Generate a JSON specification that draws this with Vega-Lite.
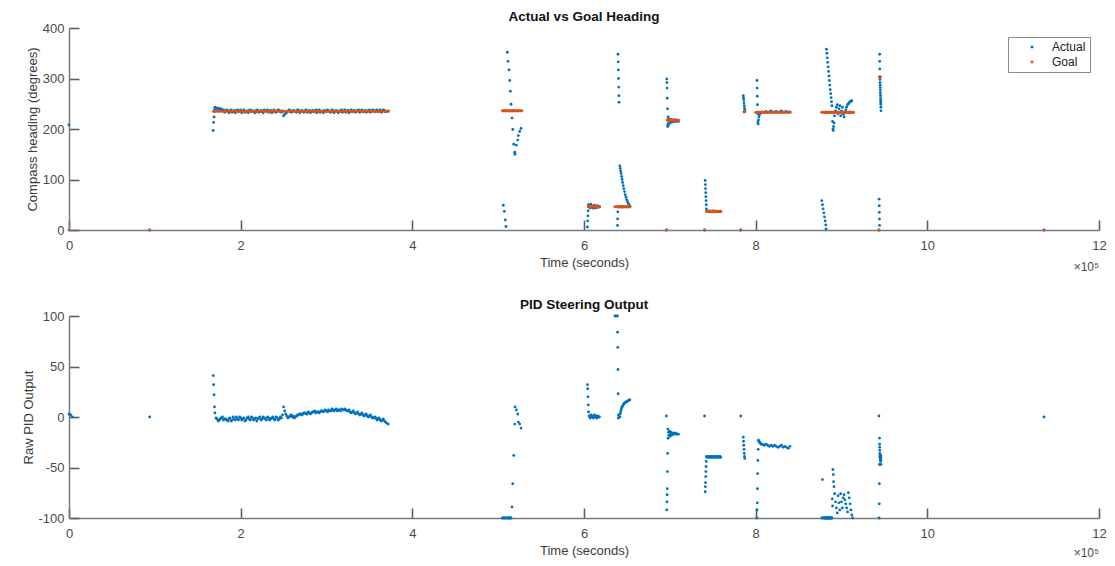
{
  "$schema": "https://vega.github.io/schema/vega-lite/v6.json",
  "background": "white",
  "padding": {"left": 22, "top": 9, "right": 10, "bottom": 5},
  "config": {
    "view": {"stroke": null},
    "font": "Liberation Sans",
    "axis": {"grid": false, "labelFlush": false, "domainColor": "#7a7a7a", "domainWidth": 1.5, "tickColor": "#5f5f5f", "tickWidth": 1.6, "tickSize": -10, "labelColor": "#4a4a4a", "labelFontSize": 13, "titleColor": "#3a3a3a", "titleFontSize": 13, "titleFontWeight": "normal"},
    "axisX": {"titlePadding": 4, "labelPadding": 19},
    "axisY": {"titlePadding": 3, "labelPadding": 15},
    "title": {"fontSize": 13.5, "fontWeight": "bold", "color": "#111111", "offset": -1}
  },
  "datasets": {
    "log": [
      {"t":0,"actual":208,"goal":0,"pid":3},
      {"t":2000,"pid":2},
      {"t":4000,"pid":0},
      {"t":94000,"actual":0,"goal":0,"pid":0},
      {"t":168000,"actual":197,"pid":41},
      {"t":168500,"actual":213,"goal":235,"pid":32},
      {"t":169000,"actual":224,"pid":22},
      {"t":169500,"actual":238,"goal":235,"pid":10},
      {"t":170000,"actual":243,"goal":235,"pid":4},
      {"t":172500,"actual":242,"goal":235,"pid":-2},
      {"t":175000,"actual":241,"goal":235,"pid":-3},
      {"t":177500,"actual":240,"goal":235,"pid":-1},
      {"t":180000,"actual":238,"goal":235,"pid":-3},
      {"t":182500,"actual":236,"goal":235,"pid":-2},
      {"t":185000,"actual":237,"goal":235,"pid":-4},
      {"t":187500,"actual":235,"goal":235,"pid":-1},
      {"t":190000,"actual":233,"goal":235,"pid":-3},
      {"t":192500,"actual":237,"goal":235,"pid":-2},
      {"t":195000,"actual":236,"goal":235,"pid":0},
      {"t":197500,"actual":234,"goal":235,"pid":-3},
      {"t":200000,"actual":238,"goal":235,"pid":-1},
      {"t":202500,"actual":235,"goal":235,"pid":-2},
      {"t":205000,"actual":233,"goal":235,"pid":-4},
      {"t":207500,"actual":236,"goal":235,"pid":-1},
      {"t":210000,"actual":237,"goal":235,"pid":-2},
      {"t":212500,"actual":234,"goal":235,"pid":0},
      {"t":215000,"actual":236,"goal":235,"pid":-3},
      {"t":217500,"actual":233,"goal":235,"pid":-1},
      {"t":220000,"actual":237,"goal":235,"pid":-2},
      {"t":222500,"actual":235,"goal":235,"pid":0},
      {"t":225000,"actual":234,"goal":235,"pid":-2},
      {"t":227500,"actual":238,"goal":235,"pid":-1},
      {"t":230000,"actual":236,"goal":235,"pid":-3},
      {"t":232500,"actual":233,"goal":235,"pid":-1},
      {"t":235000,"actual":237,"goal":235,"pid":-2},
      {"t":237500,"actual":235,"goal":235,"pid":0},
      {"t":240000,"actual":234,"goal":235,"pid":-3},
      {"t":242500,"actual":236,"goal":235,"pid":-1},
      {"t":245000,"actual":237,"goal":235,"pid":-2},
      {"t":247500,"actual":233,"goal":235,"pid":-1},
      {"t":250000,"actual":226,"goal":235,"pid":10},
      {"t":252500,"actual":231,"goal":235,"pid":3},
      {"t":255000,"actual":235,"goal":235,"pid":-1},
      {"t":257500,"actual":237,"goal":235,"pid":1},
      {"t":260000,"actual":234,"goal":235,"pid":0},
      {"t":262500,"actual":236,"goal":235,"pid":-1},
      {"t":265000,"actual":233,"goal":235,"pid":1},
      {"t":267500,"actual":237,"goal":235,"pid":2},
      {"t":270000,"actual":235,"goal":235,"pid":3},
      {"t":272500,"actual":234,"goal":235,"pid":3},
      {"t":275000,"actual":236,"goal":235,"pid":4},
      {"t":277500,"actual":233,"goal":235,"pid":3},
      {"t":280000,"actual":237,"goal":235,"pid":4},
      {"t":282500,"actual":235,"goal":235,"pid":4},
      {"t":285000,"actual":234,"goal":235,"pid":5},
      {"t":287500,"actual":238,"goal":235,"pid":4},
      {"t":290000,"actual":236,"goal":235,"pid":5},
      {"t":292500,"actual":233,"goal":235,"pid":5},
      {"t":295000,"actual":235,"goal":235,"pid":6},
      {"t":297500,"actual":237,"goal":235,"pid":6},
      {"t":300000,"actual":234,"goal":235,"pid":6},
      {"t":302500,"actual":236,"goal":235,"pid":7},
      {"t":305000,"actual":233,"goal":235,"pid":6},
      {"t":307500,"actual":237,"goal":235,"pid":7},
      {"t":310000,"actual":235,"goal":235,"pid":7},
      {"t":312500,"actual":234,"goal":235,"pid":6},
      {"t":315000,"actual":236,"goal":235,"pid":7},
      {"t":317500,"actual":238,"goal":235,"pid":8},
      {"t":320000,"actual":235,"goal":235,"pid":7},
      {"t":322500,"actual":233,"goal":235,"pid":7},
      {"t":325000,"actual":237,"goal":235,"pid":6},
      {"t":327500,"actual":236,"goal":235,"pid":5},
      {"t":330000,"actual":234,"goal":235,"pid":5},
      {"t":332500,"actual":237,"goal":235,"pid":4},
      {"t":335000,"actual":235,"goal":235,"pid":4},
      {"t":337500,"actual":238,"goal":235,"pid":3},
      {"t":340000,"actual":236,"goal":235,"pid":3},
      {"t":342500,"actual":234,"goal":235,"pid":2},
      {"t":345000,"actual":237,"goal":235,"pid":2},
      {"t":347500,"actual":236,"goal":235,"pid":1},
      {"t":350000,"actual":238,"goal":235,"pid":1},
      {"t":352500,"actual":235,"goal":235,"pid":0},
      {"t":355000,"actual":237,"goal":235,"pid":-1},
      {"t":357500,"actual":236,"goal":235,"pid":-1},
      {"t":360000,"actual":234,"goal":235,"pid":-2},
      {"t":362500,"actual":238,"goal":235,"pid":-3},
      {"t":365000,"actual":236,"goal":235,"pid":-3},
      {"t":367500,"actual":237,"goal":235,"pid":-4},
      {"t":370000,"actual":235,"goal":235,"pid":-6},
      {"t":372000,"actual":236,"goal":235,"pid":-7},
      {"t":171250,"actual":241,"pid":-1},
      {"t":173750,"actual":239,"pid":-4},
      {"t":176250,"actual":238,"pid":-2},
      {"t":178750,"actual":237,"pid":0},
      {"t":181250,"actual":233,"pid":-2},
      {"t":183750,"actual":238,"pid":-3},
      {"t":186250,"actual":232,"pid":-2},
      {"t":188750,"actual":238,"pid":-4},
      {"t":191250,"actual":234,"pid":0},
      {"t":193750,"actual":232,"pid":-3},
      {"t":196250,"actual":238,"pid":-2},
      {"t":198750,"actual":236,"pid":0},
      {"t":201250,"actual":232,"pid":-3},
      {"t":203750,"actual":238,"pid":-1},
      {"t":206250,"actual":235,"pid":-3},
      {"t":208750,"actual":232,"pid":0},
      {"t":211250,"actual":238,"pid":-3},
      {"t":213750,"actual":236,"pid":-1},
      {"t":216250,"actual":232,"pid":-2},
      {"t":218750,"actual":238,"pid":-4},
      {"t":221250,"actual":233,"pid":-1},
      {"t":223750,"actual":237,"pid":-3},
      {"t":226250,"actual":232,"pid":0},
      {"t":228750,"actual":235,"pid":-2},
      {"t":231250,"actual":238,"pid":0},
      {"t":233750,"actual":234,"pid":-3},
      {"t":236250,"actual":232,"pid":-1},
      {"t":238750,"actual":238,"pid":-2},
      {"t":241250,"actual":233,"pid":0},
      {"t":243750,"actual":238,"pid":-3},
      {"t":246250,"actual":234,"pid":0},
      {"t":248750,"actual":236,"pid":2},
      {"t":251250,"actual":229,"pid":6},
      {"t":253750,"actual":233,"pid":1},
      {"t":256250,"actual":238,"pid":0},
      {"t":258750,"actual":233,"pid":2},
      {"t":261250,"actual":237,"pid":1},
      {"t":263750,"actual":235,"pid":0},
      {"t":266250,"actual":238,"pid":2},
      {"t":268750,"actual":232,"pid":3},
      {"t":271250,"actual":237,"pid":2},
      {"t":273750,"actual":233,"pid":4},
      {"t":276250,"actual":238,"pid":3},
      {"t":278750,"actual":235,"pid":5},
      {"t":281250,"actual":232,"pid":3},
      {"t":283750,"actual":237,"pid":5},
      {"t":286250,"actual":235,"pid":6},
      {"t":288750,"actual":232,"pid":5},
      {"t":291250,"actual":238,"pid":4},
      {"t":293750,"actual":236,"pid":6},
      {"t":296250,"actual":232,"pid":5},
      {"t":298750,"actual":236,"pid":7},
      {"t":301250,"actual":238,"pid":5},
      {"t":303750,"actual":234,"pid":6},
      {"t":306250,"actual":238,"pid":8},
      {"t":308750,"actual":232,"pid":6},
      {"t":311250,"actual":237,"pid":8},
      {"t":313750,"actual":232,"pid":7},
      {"t":316250,"actual":235,"pid":6},
      {"t":318750,"actual":233,"pid":7},
      {"t":321250,"actual":238,"pid":8},
      {"t":323750,"actual":235,"pid":6},
      {"t":326250,"actual":232,"pid":7},
      {"t":328750,"actual":238,"pid":4},
      {"t":331250,"actual":236,"pid":6},
      {"t":333750,"actual":233,"pid":3},
      {"t":336250,"actual":237,"pid":5},
      {"t":338750,"actual":233,"pid":2},
      {"t":341250,"actual":238,"pid":4},
      {"t":343750,"actual":235,"pid":1},
      {"t":346250,"actual":233,"pid":3},
      {"t":348750,"actual":235,"pid":0},
      {"t":351250,"actual":233,"pid":2},
      {"t":353750,"actual":238,"pid":-1},
      {"t":356250,"actual":234,"pid":0},
      {"t":358750,"actual":238,"pid":-3},
      {"t":361250,"actual":236,"pid":-1},
      {"t":363750,"actual":233,"pid":-4},
      {"t":366250,"actual":238,"pid":-2},
      {"t":368750,"actual":234,"pid":-5},
      {"t":505000,"goal":236,"pid":-100},
      {"t":506000,"actual":49,"goal":236,"pid":-100},
      {"t":507200,"actual":37,"goal":236,"pid":-100},
      {"t":508300,"actual":20,"goal":236,"pid":-100},
      {"t":509100,"actual":7,"goal":236,"pid":-100},
      {"t":510700,"actual":352,"goal":236,"pid":-100},
      {"t":511500,"actual":334,"goal":236,"pid":-100},
      {"t":512700,"actual":317,"goal":236,"pid":-100},
      {"t":513500,"actual":296,"goal":236,"pid":-100},
      {"t":514200,"actual":275,"goal":236,"pid":-100},
      {"t":515000,"actual":249,"goal":236,"pid":-100},
      {"t":516100,"actual":222,"goal":236,"pid":-89},
      {"t":517000,"actual":199,"goal":236,"pid":-66},
      {"t":518100,"actual":170,"goal":236,"pid":-38},
      {"t":519300,"actual":154,"goal":236,"pid":-7},
      {"t":519600,"actual":150,"goal":236,"pid":10},
      {"t":521200,"actual":168,"goal":236,"pid":7},
      {"t":522800,"actual":178,"goal":236,"pid":3},
      {"t":523500,"actual":187,"goal":236,"pid":-5},
      {"t":525100,"actual":195,"goal":236,"pid":-7},
      {"t":526600,"actual":201,"goal":236,"pid":-11},
      {"t":527500,"goal":236},
      {"t":604000,"actual":6,"pid":32},
      {"t":604300,"actual":18,"pid":28},
      {"t":604600,"actual":28,"pid":20},
      {"t":604900,"actual":38,"pid":12},
      {"t":605200,"actual":50,"goal":46,"pid":5},
      {"t":606000,"actual":48,"goal":46,"pid":1},
      {"t":607000,"actual":44,"goal":46,"pid":-1},
      {"t":608000,"actual":51,"goal":46,"pid":2},
      {"t":609000,"actual":45,"goal":46,"pid":0},
      {"t":610000,"actual":47,"goal":46,"pid":1},
      {"t":611000,"actual":43,"goal":46,"pid":-1},
      {"t":612000,"actual":49,"goal":46,"pid":2},
      {"t":613000,"actual":46,"goal":46,"pid":0},
      {"t":614000,"actual":44,"goal":46,"pid":1},
      {"t":615000,"actual":48,"goal":46,"pid":-1},
      {"t":616000,"actual":45,"goal":46,"pid":1},
      {"t":617000,"actual":47,"goal":46,"pid":0},
      {"t":618000,"actual":46,"goal":46,"pid":0},
      {"t":636000,"goal":46,"pid":100},
      {"t":637500,"goal":46,"pid":100},
      {"t":639000,"actual":9,"goal":46,"pid":100},
      {"t":639200,"actual":22,"pid":84},
      {"t":639400,"actual":36,"pid":69},
      {"t":639600,"actual":348,"pid":47},
      {"t":639800,"actual":333,"pid":23},
      {"t":640000,"actual":317,"goal":46,"pid":-1},
      {"t":640200,"actual":300,"pid":2},
      {"t":640400,"actual":283},
      {"t":640600,"actual":266},
      {"t":640800,"actual":253,"goal":46},
      {"t":641700,"actual":127,"goal":46,"pid":0},
      {"t":642200,"actual":122,"goal":46,"pid":3},
      {"t":642700,"actual":117,"goal":46,"pid":5},
      {"t":643200,"actual":112,"goal":46,"pid":7},
      {"t":643800,"actual":106,"goal":46,"pid":9},
      {"t":644400,"actual":100,"goal":46,"pid":10},
      {"t":645000,"actual":94,"goal":46,"pid":11},
      {"t":645700,"actual":88,"goal":46,"pid":12},
      {"t":646400,"actual":82,"goal":46,"pid":13},
      {"t":647200,"actual":76,"goal":46,"pid":14},
      {"t":648000,"actual":70,"goal":46,"pid":14},
      {"t":648900,"actual":65,"goal":46,"pid":15},
      {"t":649800,"actual":60,"goal":46,"pid":15},
      {"t":650800,"actual":56,"goal":46,"pid":16},
      {"t":651800,"actual":52,"goal":46,"pid":16},
      {"t":652800,"actual":49,"goal":46,"pid":17},
      {"t":653500,"actual":47,"goal":46,"pid":17},
      {"t":696000,"actual":0,"goal":0,"pid":1},
      {"t":696400,"actual":299,"pid":-92},
      {"t":696600,"actual":292,"pid":-84},
      {"t":696800,"actual":281,"pid":-77},
      {"t":697000,"actual":261,"pid":-71},
      {"t":697200,"actual":240,"goal":218,"pid":-54},
      {"t":697400,"actual":205,"goal":218,"pid":-36},
      {"t":697700,"actual":210,"goal":218,"pid":-12},
      {"t":698000,"actual":224,"goal":218,"pid":-21},
      {"t":698500,"actual":208,"goal":218,"pid":-15},
      {"t":699000,"actual":220,"goal":218,"pid":-18},
      {"t":699600,"actual":212,"goal":218,"pid":-14},
      {"t":700200,"actual":218,"goal":218,"pid":-19},
      {"t":700800,"actual":214,"goal":218,"pid":-16},
      {"t":701400,"actual":219,"goal":218,"pid":-15},
      {"t":702000,"actual":213,"goal":218,"pid":-18},
      {"t":702700,"actual":217,"goal":218,"pid":-16},
      {"t":703400,"actual":215,"goal":218,"pid":-17},
      {"t":704100,"actual":216,"goal":218,"pid":-16},
      {"t":704800,"actual":215,"goal":218,"pid":-17},
      {"t":705500,"actual":216,"goal":218,"pid":-16},
      {"t":706200,"actual":215,"goal":218,"pid":-17},
      {"t":707000,"actual":215,"goal":218,"pid":-16},
      {"t":708500,"actual":216,"goal":218,"pid":-17},
      {"t":710000,"actual":215,"goal":218,"pid":-17},
      {"t":740500,"actual":0,"goal":0,"pid":1},
      {"t":741200,"actual":98,"pid":-74},
      {"t":741400,"actual":90,"pid":-69},
      {"t":741600,"actual":82,"pid":-65},
      {"t":741800,"actual":74,"pid":-59},
      {"t":742000,"actual":66,"pid":-54},
      {"t":742200,"actual":58,"pid":-49},
      {"t":742400,"actual":50,"pid":-44},
      {"t":742600,"actual":42,"goal":37,"pid":-39},
      {"t":743500,"actual":38,"goal":37,"pid":-40},
      {"t":744500,"actual":37,"goal":37,"pid":-39},
      {"t":745500,"actual":36,"goal":37,"pid":-40},
      {"t":746500,"actual":38,"goal":37,"pid":-39},
      {"t":747500,"actual":37,"goal":37,"pid":-40},
      {"t":748500,"actual":36,"goal":37,"pid":-39},
      {"t":749500,"actual":37,"goal":37,"pid":-40},
      {"t":750500,"actual":38,"goal":37,"pid":-39},
      {"t":751500,"actual":36,"goal":37,"pid":-40},
      {"t":752500,"actual":37,"goal":37,"pid":-39},
      {"t":753500,"actual":37,"goal":37,"pid":-40},
      {"t":754500,"actual":36,"goal":37,"pid":-39},
      {"t":755500,"actual":37,"goal":37,"pid":-40},
      {"t":756500,"actual":37,"goal":37,"pid":-39},
      {"t":757500,"actual":36,"goal":37,"pid":-40},
      {"t":758500,"actual":37,"goal":37,"pid":-39},
      {"t":759300,"actual":37,"goal":37,"pid":-40},
      {"t":782600,"actual":0,"goal":0,"pid":1},
      {"t":785500,"actual":266,"pid":-20},
      {"t":785800,"actual":262,"pid":-24},
      {"t":786100,"actual":258,"pid":-28},
      {"t":786400,"actual":252,"goal":234,"pid":-32},
      {"t":786700,"actual":246,"pid":-36},
      {"t":787000,"actual":241,"pid":-39},
      {"t":787300,"actual":237,"goal":234,"pid":-41},
      {"t":800000,"goal":233},
      {"t":801500,"actual":296,"pid":-100},
      {"t":801700,"actual":281,"pid":-92},
      {"t":801900,"actual":265,"pid":-85},
      {"t":802100,"actual":248,"pid":-71},
      {"t":802300,"actual":230,"goal":233,"pid":-56},
      {"t":802600,"actual":214,"goal":233,"pid":-43},
      {"t":802900,"actual":210,"goal":233,"pid":-32},
      {"t":803300,"actual":218,"goal":233,"pid":-23},
      {"t":803800,"actual":224,"goal":233,"pid":-24},
      {"t":804500,"actual":228,"goal":233,"pid":-25},
      {"t":805500,"actual":231,"goal":233,"pid":-26},
      {"t":806500,"actual":233,"goal":233,"pid":-27},
      {"t":808000,"actual":234,"goal":233,"pid":-27},
      {"t":810000,"actual":233,"goal":233,"pid":-28},
      {"t":812000,"actual":235,"goal":233,"pid":-27},
      {"t":814000,"actual":233,"goal":233,"pid":-28},
      {"t":816000,"actual":234,"goal":233,"pid":-29},
      {"t":818000,"actual":236,"goal":233,"pid":-28},
      {"t":820000,"actual":233,"goal":233,"pid":-29},
      {"t":822000,"actual":234,"goal":233,"pid":-28},
      {"t":824000,"actual":235,"goal":233,"pid":-29},
      {"t":826000,"actual":233,"goal":233,"pid":-30},
      {"t":828000,"actual":234,"goal":233,"pid":-29},
      {"t":830000,"actual":236,"goal":233,"pid":-28},
      {"t":832000,"actual":233,"goal":233,"pid":-30},
      {"t":834000,"actual":234,"goal":233,"pid":-29},
      {"t":836000,"actual":235,"goal":233,"pid":-30},
      {"t":838000,"actual":233,"goal":233,"pid":-31},
      {"t":840000,"actual":234,"goal":233,"pid":-29},
      {"t":877000,"actual":58,"goal":233,"pid":-100},
      {"t":877800,"actual":50,"pid":-62},
      {"t":878600,"actual":42,"goal":233,"pid":-100},
      {"t":879400,"actual":34,"pid":-100},
      {"t":880200,"actual":26,"goal":233,"pid":-100},
      {"t":881000,"actual":18,"pid":-100},
      {"t":881600,"actual":10,"goal":233,"pid":-100},
      {"t":882000,"actual":2,"pid":-100},
      {"t":882400,"actual":358,"goal":233,"pid":-100},
      {"t":882900,"actual":350,"pid":-100},
      {"t":883400,"actual":341,"goal":233,"pid":-100},
      {"t":883900,"actual":332,"pid":-100},
      {"t":884400,"actual":323,"goal":233,"pid":-100},
      {"t":884900,"actual":314,"pid":-100},
      {"t":885400,"actual":305,"goal":233,"pid":-100},
      {"t":885900,"actual":296,"pid":-100},
      {"t":886400,"actual":287,"goal":233,"pid":-100},
      {"t":886900,"actual":278,"pid":-100},
      {"t":887400,"actual":270,"goal":233,"pid":-100},
      {"t":887900,"actual":262,"pid":-100},
      {"t":888400,"actual":254,"goal":233,"pid":-100},
      {"t":888900,"actual":246,"pid":-100},
      {"t":889300,"actual":232,"goal":233,"pid":-81},
      {"t":889600,"actual":215,"pid":-88},
      {"t":890000,"actual":200,"goal":233,"pid":-52},
      {"t":890400,"actual":197,"pid":-57},
      {"t":890800,"actual":205,"goal":233,"pid":-64},
      {"t":891300,"actual":212,"pid":-69},
      {"t":892000,"actual":226,"goal":233,"pid":-76},
      {"t":893000,"actual":236,"goal":233,"pid":-84},
      {"t":894000,"actual":243,"goal":233,"pid":-90},
      {"t":895000,"actual":248,"goal":233,"pid":-95},
      {"t":896000,"actual":230,"goal":233,"pid":-78},
      {"t":897000,"actual":240,"goal":233,"pid":-85},
      {"t":898000,"actual":246,"goal":233,"pid":-92},
      {"t":899000,"actual":226,"goal":233,"pid":-76},
      {"t":900000,"actual":236,"goal":233,"pid":-84},
      {"t":901000,"actual":243,"goal":233,"pid":-90},
      {"t":902000,"actual":229,"goal":233,"pid":-80},
      {"t":903000,"actual":224,"goal":233,"pid":-77},
      {"t":904000,"actual":233,"goal":233,"pid":-82},
      {"t":905000,"actual":238,"goal":233,"pid":-86},
      {"t":906000,"actual":243,"goal":233,"pid":-90},
      {"t":907000,"actual":248,"goal":233,"pid":-94},
      {"t":908000,"actual":250,"goal":233,"pid":-75},
      {"t":909000,"actual":252,"goal":233,"pid":-80},
      {"t":910000,"actual":254,"goal":233,"pid":-86},
      {"t":911000,"actual":255,"goal":233,"pid":-92},
      {"t":912000,"actual":256,"goal":233,"pid":-97},
      {"t":913000,"goal":233,"pid":-100},
      {"t":914000,"goal":233},
      {"t":943600,"actual":0,"goal":0,"pid":1},
      {"t":943800,"actual":61,"pid":-100},
      {"t":944000,"actual":48,"pid":-86},
      {"t":944100,"actual":35,"pid":-66},
      {"t":944200,"actual":22,"pid":-47},
      {"t":944300,"actual":9,"pid":-21},
      {"t":944400,"actual":348,"pid":-27},
      {"t":944500,"actual":334,"pid":-30},
      {"t":944600,"actual":319,"goal":303,"pid":-33},
      {"t":944700,"actual":303,"goal":303,"pid":-36},
      {"t":944800,"actual":298,"goal":303,"pid":-38},
      {"t":944900,"actual":292,"pid":-39},
      {"t":945000,"actual":287,"goal":303,"pid":-40},
      {"t":945100,"actual":282,"pid":-41},
      {"t":945200,"actual":277,"pid":-39},
      {"t":945300,"actual":272,"pid":-42},
      {"t":945400,"actual":267,"pid":-40},
      {"t":945500,"actual":262,"pid":-44},
      {"t":945600,"actual":257,"pid":-38},
      {"t":945700,"actual":253,"pid":-41},
      {"t":945800,"actual":249,"pid":-43},
      {"t":945900,"actual":243,"pid":-40},
      {"t":946000,"actual":236,"pid":-47},
      {"t":1136000,"actual":0,"goal":0,"pid":0}
    ],
    "exponent": [{"label": "×10⁵"}]
  },
  "spacing": 24,
  "resolve": {"scale": {"color": "independent"}, "legend": {"color": "independent"}},
  "vconcat": [
    {
      "width": 1030,
      "height": 202,
      "title": {"text": "Actual vs Goal Heading", "offset": -1},
      "layer": [
        {
          "data": {"name": "log"},
          "mark": {"type": "point", "filled": true, "size": 8, "opacity": 1},
          "encoding": {
            "x": {"field": "t", "type": "quantitative", "scale": {"domain": [0, 1200000], "nice": false},
                  "axis": {"values": [0, 200000, 400000, 600000, 800000, 1000000, 1200000], "labelExpr": "datum.value / 100000", "title": "Time (seconds)"}},
            "y": {"field": "actual", "type": "quantitative", "scale": {"domain": [0, 400], "nice": false},
                  "axis": {"values": [0, 100, 200, 300, 400], "title": "Compass heading (degrees)"}},
            "color": {"datum": "Actual", "type": "nominal",
                      "scale": {"domain": ["Actual", "Goal"], "range": ["#0072BD", "#D95319"]},
                      "legend": {"title": null, "orient": "top-right", "offset": 9, "padding": 4, "strokeColor": "#8a8a8a", "fillColor": "white", "symbolType": "circle", "symbolSize": 8, "symbolOffset": 14, "labelOffset": 14, "rowPadding": 3, "labelFontSize": 12, "labelColor": "#222222"}}
          }
        },
        {
          "data": {"name": "log"},
          "mark": {"type": "point", "filled": true, "size": 9, "opacity": 1},
          "encoding": {
            "x": {"field": "t", "type": "quantitative", "axis": {"title": "Time (seconds)"}},
            "y": {"field": "goal", "type": "quantitative", "axis": {"title": "Compass heading (degrees)"}},
            "color": {"datum": "Goal", "type": "nominal"}
          }
        },
        {
          "data": {"name": "exponent"},
          "mark": {"type": "text", "align": "right", "baseline": "middle", "fontSize": 12, "color": "#4a4a4a"},
          "encoding": {
            "x": {"datum": 1200000, "type": "quantitative"},
            "y": {"datum": -73, "type": "quantitative"},
            "text": {"field": "label"}
          }
        }
      ]
    },
    {
      "width": 1030,
      "height": 202,
      "title": {"text": "PID Steering Output", "offset": -1},
      "layer": [
        {
          "data": {"name": "log"},
          "mark": {"type": "point", "filled": true, "size": 8, "opacity": 1, "color": "#0072BD"},
          "encoding": {
            "x": {"field": "t", "type": "quantitative", "scale": {"domain": [0, 1200000], "nice": false},
                  "axis": {"values": [0, 200000, 400000, 600000, 800000, 1000000, 1200000], "labelExpr": "datum.value / 100000", "title": "Time (seconds)"}},
            "y": {"field": "pid", "type": "quantitative", "scale": {"domain": [-100, 100], "nice": false},
                  "axis": {"values": [-100, -50, 0, 50, 100], "labelExpr": "datum.value < 0 ? '-' + abs(datum.value) : '' + datum.value", "title": "Raw PID Output", "titlePadding": 2}}
          }
        },
        {
          "data": {"name": "exponent"},
          "mark": {"type": "text", "align": "right", "baseline": "middle", "fontSize": 12, "color": "#4a4a4a"},
          "encoding": {
            "x": {"datum": 1200000, "type": "quantitative"},
            "y": {"datum": -135, "type": "quantitative"},
            "text": {"field": "label"}
          }
        }
      ]
    }
  ]
}
